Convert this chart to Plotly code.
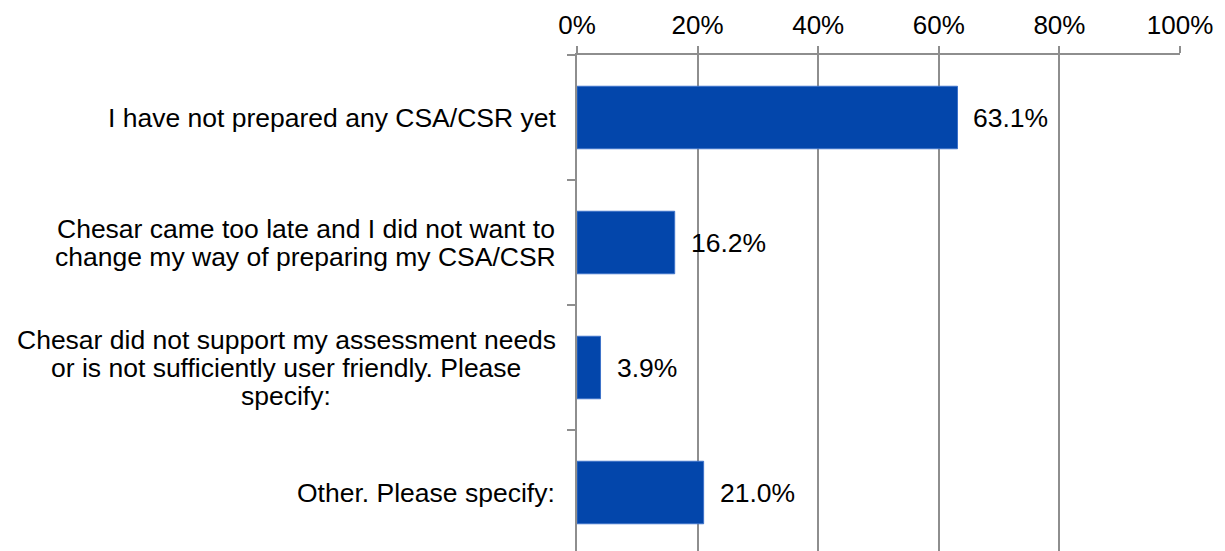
import plotly.graph_objects as go

categories = [
    "I have not prepared any CSA/CSR yet",
    "Chesar came too late and I did not want to<br>change my way of preparing my CSA/CSR",
    "Chesar did not support my assessment needs<br>or is not sufficiently user friendly. Please<br>specify:",
    "Other. Please specify:",
]
values = [63.1, 16.2, 3.9, 21.0]
tick_vals = [0, 20, 40, 60, 80, 100]
tick_text = ["0%", "20%", "40%", "60%", "80%", "100%"]

FONT = "Liberation Sans, Arial, sans-serif"
FS = 26
VFS = 26.5
CFS = 26.5
GRID = "#8e8e8e"

# Arial / Liberation Sans advance widths (em) for estimating line widths
_W = {c: .556 for c in "abdeghnopqu"}
_W.update({"c": .5, "f": .278, "i": .222, "j": .222, "k": .5, "l": .222, "m": .833,
           "r": .333, "s": .5, "t": .278, "v": .5, "w": .722, "x": .5, "y": .5, "z": .5,
           "A": .667, "C": .722, "I": .278, "O": .778, "P": .667, "R": .722, "S": .667,
           " ": .278, ".": .278, ":": .278, "/": .278})


def text_w(s, size):
    return sum(_W.get(ch, .556) for ch in s) * size


fig = go.Figure()
fig.add_trace(go.Bar(
    y=categories, x=values, orientation="h",
    width=0.5,
    marker=dict(color="#0346AB", line=dict(color="#3d72c9", width=1)),
    hoverinfo="skip",
))

for c, v in zip(categories, values):
    fig.add_annotation(x=v, y=c, xref="x", yref="y", text=f"{v:.1f}%",
                       showarrow=False, xanchor="left", yanchor="middle",
                       xshift=14, font=dict(family=FONT, size=VFS, color="black"))

# category labels: centred lines, block right-aligned next to the axis
GAP = 21
LINE_H = 28
for c in categories:
    lines = c.split("<br>")
    maxw = max(text_w(l, CFS) for l in lines)
    n = len(lines)
    for i, l in enumerate(lines):
        fig.add_annotation(x=0, y=c, xref="x", yref="y", text=l, showarrow=False,
                           xanchor="center", yanchor="middle",
                           xshift=-(GAP + maxw / 2),
                           yshift=-(i - (n - 1) / 2) * LINE_H,
                           font=dict(family=FONT, size=CFS, color="black"))

# page body has an 8px default margin, so the figure is 8px smaller on each side
fig.update_layout(
    width=1217, height=543,
    margin=dict(l=569, r=45, t=47, b=0, pad=0),
    paper_bgcolor="white", plot_bgcolor="white",
    showlegend=False,
    font=dict(family=FONT, size=FS, color="black"),
)
fig.update_xaxes(
    side="top", range=[0, 100], tickvals=tick_vals, ticktext=tick_text,
    showgrid=True, gridcolor=GRID, gridwidth=2,
    showline=True, linecolor=GRID, linewidth=2,
    ticks="outside", ticklen=7, tickcolor=GRID, tickwidth=2,
    ticklabelstandoff=2, zeroline=False, fixedrange=True, automargin=False,
    tickfont=dict(family=FONT, size=FS, color="black"),
)
fig.update_yaxes(
    type="category", categoryorder="array", categoryarray=categories,
    range=[3.468, -0.5],
    showgrid=False, showline=True, linecolor=GRID, linewidth=2,
    ticks="outside", ticklen=8, tickcolor=GRID, tickwidth=2,
    tickson="boundaries", showticklabels=False,
    fixedrange=True, automargin=False,
)

fig.write_html("out.html")
